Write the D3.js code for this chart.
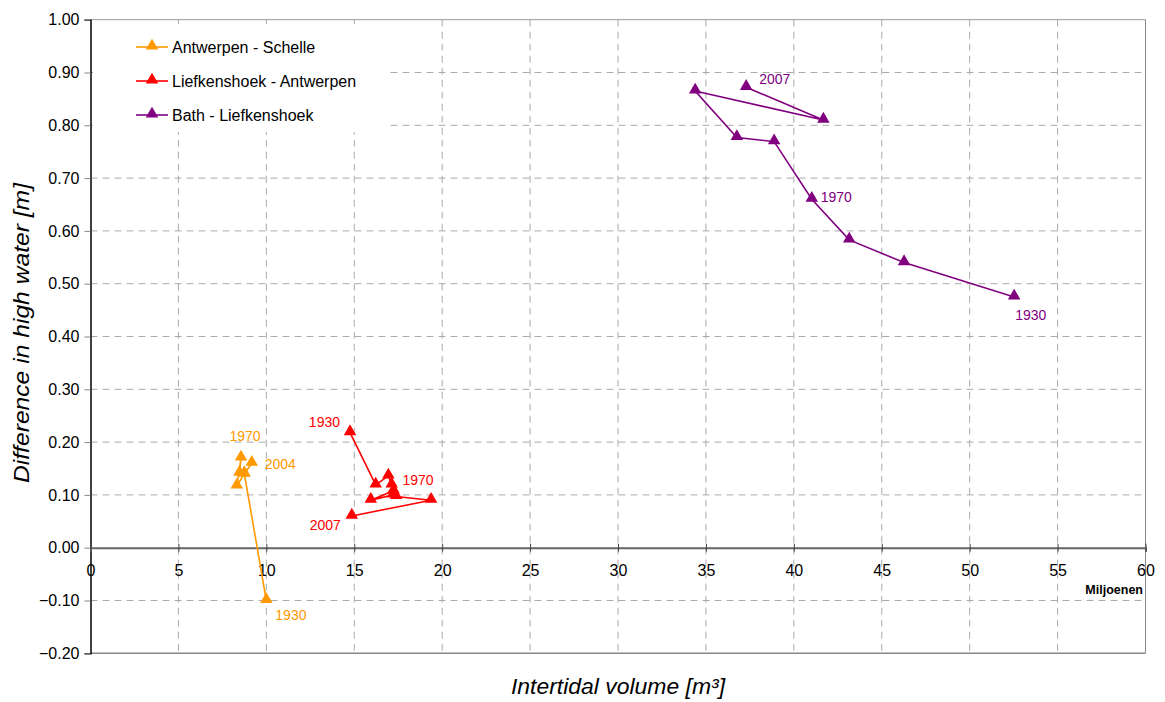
<!DOCTYPE html>
<html>
<head>
<meta charset="utf-8">
<script src="https://cdn.jsdelivr.net/npm/d3@7"></script>
<style>
  body { margin: 0; background: #fff; }
  svg { font-family: "Liberation Sans", Arial, sans-serif; }
</style>
</head>
<body>
<script>
const w = 1165;
const h = 702;

// series data: intertidal volume (millions m3) vs difference in high water (m)
const antwerpenX = [10.0, 8.75, 8.32, 8.56, 8.47, 8.75, 9.17];
const antwerpenY = [-0.10, 0.14, 0.117, 0.17, 0.141, 0.14, 0.16];
const liefkensX = [14.76, 16.22, 16.94, 17.13, 17.23, 15.94, 17.2, 17.38, 19.37, 14.86];
const liefkensY = [0.218, 0.119, 0.136, 0.119, 0.108, 0.09, 0.10, 0.097, 0.09, 0.06];
const bathX = [52.53, 46.27, 43.15, 41.02, 38.88, 36.76, 34.39, 41.68, 37.29];
const bathY = [0.475, 0.54, 0.583, 0.66, 0.769, 0.777, 0.865, 0.81, 0.872];

const seriesNames = ["Antwerpen - Schelle", "Liefkenshoek - Antwerpen", "Bath - Liefkenshoek"];
const seriesColors = ["#FF9900", "#FF0000", "#800080"];

// year labels: [series, point index, text]
const yearLabels = [
  [0, 0, "1930"], [0, 3, "1970"], [0, 6, "2004"],
  [1, 0, "1930"], [1, 4, "1970"], [1, 9, "2007"],
  [2, 0, "1930"], [2, 3, "1970"], [2, 8, "2007"]
];
// label offsets relative to the point
const labelOffsets = [
  [9, 19, "start"], [4, -17, "middle"], [13, 6, "start"],
  [-10, -6, "end"], [9, -6, "start"], [-11, 14, "end"],
  [1, 23, "start"], [9, 3, "start"], [13, -3, "start"]
];

const xTicks = d3.range(0, 61, 5);
const yTicks = d3.range(-2, 11).map(d => d / 10);

const x = d3.scaleLinear().domain([0, 60]).range([90.5, 1145.5]);
const y = d3.scaleLinear().domain([-0.2, 1]).range([653.3, 19.7]);

const svg = d3.select("body").append("svg")
  .attr("width", w)
  .attr("height", h);

const series = [
  d3.zip(antwerpenX, antwerpenY),
  d3.zip(liefkensX, liefkensY),
  d3.zip(bathX, bathY)
];

// gridlines
svg.append("g")
  .selectAll("line.hg")
  .data(yTicks.filter(d => d !== 0 && d !== -0.2 && d !== 1))
  .enter().append("line")
  .attr("x1", x(0)).attr("x2", x(60))
  .attr("y1", d => y(d)).attr("y2", d => y(d))
  .attr("stroke", "#aaa")
  .attr("stroke-dasharray", "7,5");

svg.append("g")
  .selectAll("line.vg")
  .data(xTicks.filter(d => d !== 0 && d !== 60))
  .enter().append("line")
  .attr("x1", d => x(d)).attr("x2", d => x(d))
  .attr("y1", y(1)).attr("y2", y(-0.2))
  .attr("stroke", "#aaa")
  .attr("stroke-dasharray", "7,5");

// legend background hides the grid
svg.append("rect")
  .attr("x", 93).attr("y", 24)
  .attr("width", 295).attr("height", 108)
  .attr("fill", "#fff");

// frame
svg.append("line")
  .attr("x1", x(0)).attr("x2", x(60)).attr("y1", y(1)).attr("y2", y(1))
  .attr("stroke", "#999");
svg.append("line")
  .attr("x1", x(60)).attr("x2", x(60)).attr("y1", y(1)).attr("y2", y(-0.2))
  .attr("stroke", "#888");
svg.append("line")
  .attr("x1", x(0)).attr("x2", x(60)).attr("y1", y(-0.2)).attr("y2", y(-0.2))
  .attr("stroke", "#888").attr("stroke-width", 1.5);

// y axis
const yAxis = svg.append("g")
  .attr("transform", `translate(${x(0)},0)`)
  .call(d3.axisLeft(y).tickValues(yTicks).tickSize(6).tickPadding(5).tickFormat(d3.format(".2f")));
yAxis.select(".domain").attr("stroke", "#000").attr("stroke-width", 1.5);
yAxis.selectAll(".tick line").attr("stroke", "#888");
yAxis.selectAll("text").attr("font-size", 16).attr("fill", "#000");

// x axis on the zero line
const xAxis = svg.append("g")
  .attr("transform", `translate(0,${y(0)})`)
  .call(d3.axisBottom(x).tickValues(xTicks).tickSize(4).tickPadding(13));
xAxis.select(".domain").attr("stroke", "#666").attr("stroke-width", 2);
xAxis.selectAll(".tick line").attr("stroke", "#444").attr("y1", -4);
xAxis.selectAll("text").attr("font-size", 16).attr("fill", "#000");

svg.append("text")
  .attr("x", 1143).attr("y", 594)
  .attr("text-anchor", "end")
  .attr("font-size", 12.5).attr("font-weight", "bold")
  .text("Miljoenen");

// lines and markers
const line = d3.line().x(d => x(d[0])).y(d => y(d[1]));
const tri = d3.symbol().type(d3.symbolTriangle).size(68);

series.forEach((s, i) => {
  svg.append("path")
    .datum(s)
    .attr("d", line)
    .attr("fill", "none")
    .attr("stroke", seriesColors[i])
    .attr("stroke-width", 1.6);
  svg.append("g")
    .selectAll("path")
    .data(s)
    .enter().append("path")
    .attr("d", tri)
    .attr("transform", d => `translate(${x(d[0])},${y(d[1]) - 1})`)
    .attr("fill", seriesColors[i]);
});

// year labels
yearLabels.forEach((l, i) => {
  const p = series[l[0]][l[1]];
  const o = labelOffsets[i];
  svg.append("text")
    .attr("x", x(p[0]) + o[0])
    .attr("y", y(p[1]) + o[1])
    .attr("text-anchor", o[2])
    .attr("font-size", 14)
    .attr("fill", seriesColors[l[0]])
    .text(l[2]);
});

// legend
seriesNames.forEach((n, i) => {
  const ly = 47 + i * 34;
  svg.append("line")
    .attr("x1", 136).attr("x2", 168).attr("y1", ly).attr("y2", ly)
    .attr("stroke", seriesColors[i]).attr("stroke-width", 1.6);
  svg.append("path")
    .attr("d", tri)
    .attr("transform", `translate(152,${ly - 1})`)
    .attr("fill", seriesColors[i]);
  svg.append("text")
    .attr("x", 172).attr("y", ly + 5.5)
    .attr("font-size", 16)
    .text(n);
});

// axis titles
svg.append("text")
  .attr("x", 618).attr("y", 694)
  .attr("text-anchor", "middle")
  .attr("font-size", 22).attr("font-style", "italic")
  .attr("textLength", 214).attr("lengthAdjust", "spacingAndGlyphs")
  .text("Intertidal volume [m³]");

svg.append("text")
  .attr("transform", "translate(29,333) rotate(-90)")
  .attr("text-anchor", "middle")
  .attr("font-size", 22).attr("font-style", "italic")
  .attr("textLength", 300).attr("lengthAdjust", "spacingAndGlyphs")
  .text("Difference in high water [m]");
</script>
</body>
</html>
